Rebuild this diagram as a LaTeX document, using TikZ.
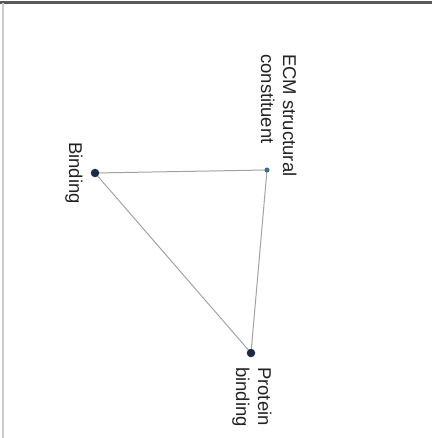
\documentclass[tikz,border=0pt]{standalone}
\usepackage{fontspec}
\setmainfont{Liberation Sans}
\begin{document}
\begin{tikzpicture}[x=1pt,y=-1pt,
  bigdot/.style={circle,fill=dotnavy,inner sep=0pt,minimum size=8.5pt},
  smalldot/.style={circle,fill=dotblue,inner sep=0pt,minimum size=5pt},
  lbl/.style={rotate=-90,inner sep=0pt,text=txtgray,font=\fontsize{18.5}{22}\selectfont},
  edge/.style={draw=edgegray,line width=1pt}]
\definecolor{dotnavy}{HTML}{1B2A45}
\definecolor{dotblue}{HTML}{3A6AA6}
\definecolor{txtgray}{HTML}{222222}
\definecolor{edgegray}{HTML}{A2A2A2}
\useasboundingbox (0,0) rectangle (432,438);
% frame
\draw[color=black!65,line width=3pt] (0,3) -- (432,3);
\draw[color=black!20,line width=2pt] (3,3) -- (3,438);
% nodes
\coordinate (b) at (95,173);
\coordinate (e) at (267,170);
\coordinate (p) at (251,353);
\draw[edge] (b) -- (e);
\draw[edge] (e) -- (p);
\draw[edge] (b) -- (p);
\node[bigdot] (bdot) at (b) {};
\node[smalldot] (edot) at (e) {};
\node[bigdot] (pdot) at (p) {};
% labels
\node[lbl,anchor=base] (blbl) at (69,173) {Binding};
\node[lbl,anchor=base west] (elbl) at (283,54) {\begin{tabular}[t]{@{}l@{}}ECM structural\\constituent\end{tabular}};
\node[lbl,anchor=base west] (plbl) at (258,367) {\begin{tabular}[t]{@{}l@{}}Protein\\binding\end{tabular}};
\end{tikzpicture}
\end{document}
